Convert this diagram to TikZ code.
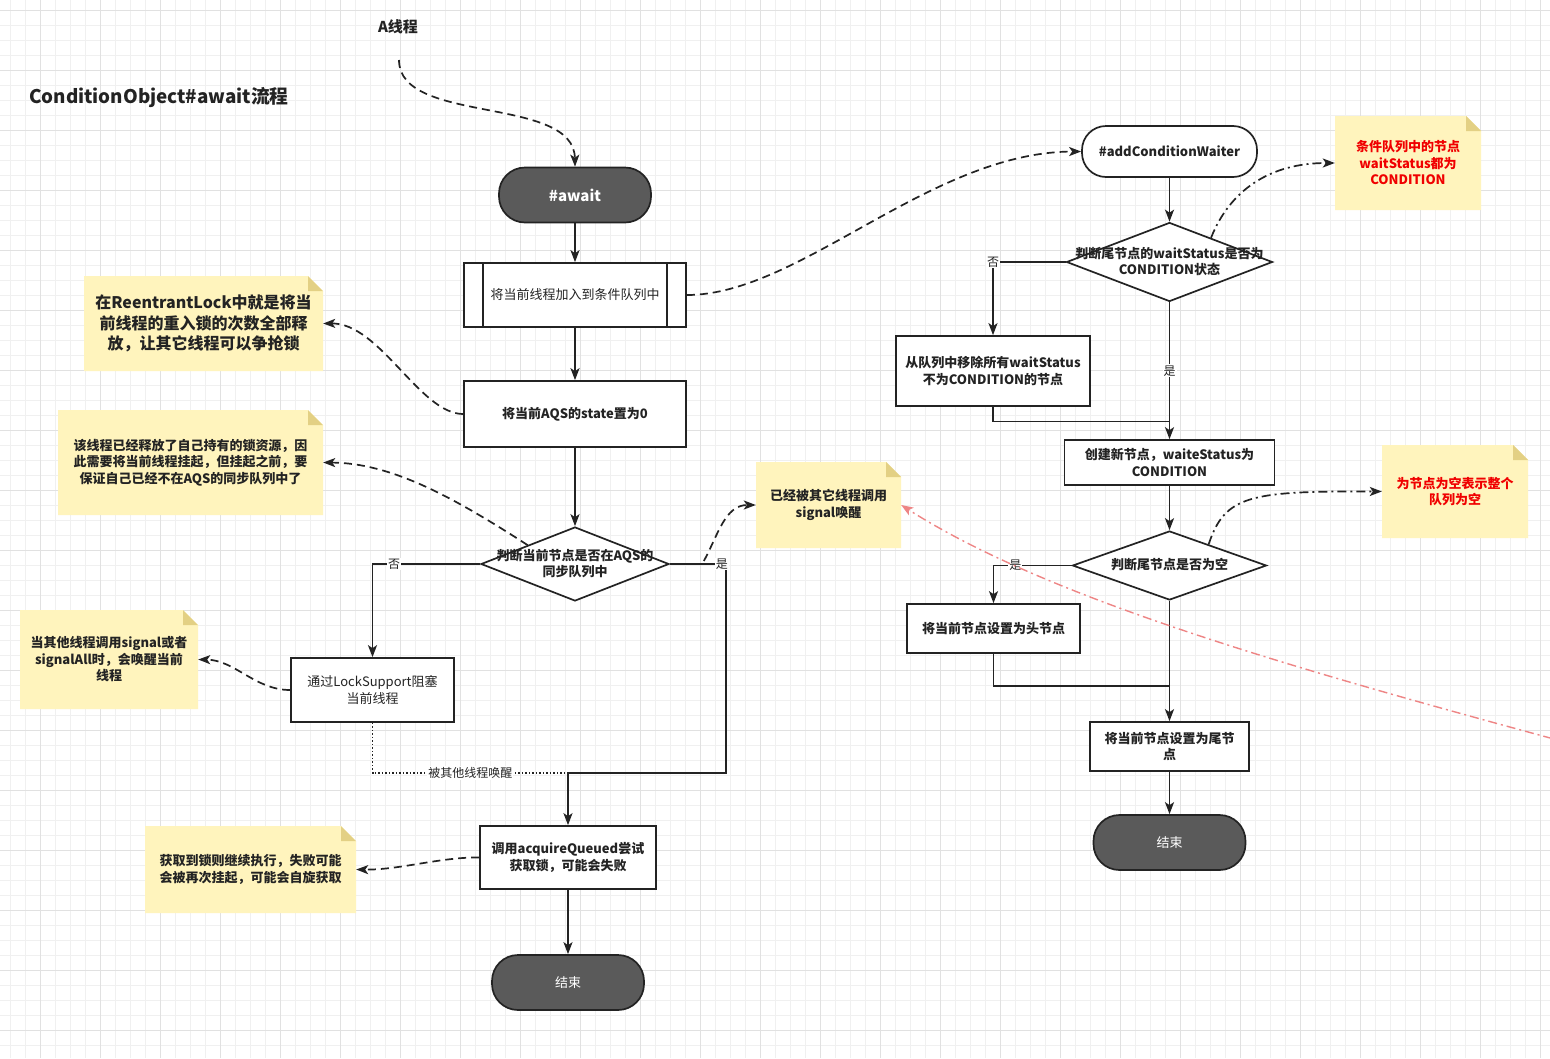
\documentclass[tikz,border=0pt]{standalone}
\usepackage{fontspec}
\setmainfont{Noto Sans CJK SC}
\usetikzlibrary{shapes.geometric,arrows.meta,calc}

\definecolor{ink}{HTML}{232323}
\definecolor{termfill}{HTML}{5A5A5A}
\definecolor{notebg}{HTML}{FFF4BD}
\definecolor{notefold}{HTML}{E3D084}
\definecolor{notered}{HTML}{F00000}
\definecolor{gridmin}{HTML}{F0F0F0}
\definecolor{gridmaj}{HTML}{E1E1E1}
\definecolor{signalred}{HTML}{EE8585}

\newcommand\fs[2]{\fontsize{#1}{#2}\selectfont}
\newcommand\dtext[1]{\smash{\makebox[0pt]{\raisebox{-4pt}{\begin{tabular}{@{}c@{}}#1\end{tabular}}}}}

\tikzset{
  box/.style={rectangle, draw=ink, line width=1.7pt, fill=white, inner sep=0pt,
    align=center, text=ink, font=\fs{13}{16.5}\bfseries},
  term/.style={rectangle, rounded corners=26pt, draw=ink, line width=1.7pt,
    fill=termfill, text=white, inner sep=0pt, minimum width=152pt,
    minimum height=55pt, font=\fs{13}{16}},
  cond/.style={diamond, draw=ink, line width=1.7pt, fill=white, inner sep=0pt,
    text=ink, font=\fs{13}{16.5}\bfseries},
  note/.style={rectangle, inner sep=0pt, align=center, text=ink,
    font=\fs{13}{16.5}\bfseries,
    path picture={
      \fill[notebg] (path picture bounding box.south west)
        -- (path picture bounding box.north west)
        -- ([xshift=-15pt]path picture bounding box.north east)
        -- ([yshift=-15pt]path picture bounding box.north east)
        -- (path picture bounding box.south east) -- cycle;
      \fill[notefold] ([xshift=-15pt]path picture bounding box.north east)
        -- ([xshift=-15pt,yshift=-15pt]path picture bounding box.north east)
        -- ([yshift=-15pt]path picture bounding box.north east) -- cycle;}},
  tip/.style={-{Stealth[length=12pt,width=9pt,inset=3pt]}},
  link/.style={draw=ink, line width=1.7pt},
  flow/.style={link, tip},
  hint/.style={link, tip, dash pattern=on 8pt off 5pt},
  hintdot/.style={link, tip, dash pattern=on 9pt off 4pt on 2pt off 4pt},
  hintred/.style={draw=signalred, line width=1.4pt, tip,
    dash pattern=on 9pt off 4pt on 2pt off 4pt},
  wake/.style={draw=ink, line width=1.4pt, dash pattern=on 1.5pt off 2pt},
  yesno/.style={fill=white, inner sep=1pt, text=ink, font=\fs{12}{14}},
}

\begin{document}
\begin{tikzpicture}[x=1pt,y=-1pt]
\useasboundingbox (0,0) rectangle (1550,1058);
\fill[white] (0,0) rectangle (1550,1058);
% grid
\foreach \gx in {10,25,...,1550} \draw[gridmin,line width=0.8pt] (\gx,0) -- (\gx,1058);
\foreach \gy in {10,25,...,1058} \draw[gridmin,line width=0.8pt] (0,\gy) -- (1550,\gy);
\foreach \gx in {40,100,...,1550} \draw[gridmaj,line width=0.8pt] (\gx,0) -- (\gx,1058);
\foreach \gy in {10,70,...,1058} \draw[gridmaj,line width=0.8pt] (0,\gy) -- (1550,\gy);

\node[anchor=west, inner sep=0pt, text=ink, font=\fs{18.8}{21}\bfseries] (title) at (29,98) {ConditionObject\#await流程};
\node[inner sep=0pt, text=ink, font=\fs{15}{18}\bfseries] (athr) at (398,27) {A线程};
\coordinate (a0) at (399,60);

% left column
\node[term, font=\fs{15}{18}\bfseries] (await) at (575,195) {\#await};
\node[box, minimum width=222pt, minimum height=64pt, font=\fs{13}{16.5}] (enq) at (575,295) {将当前线程加入到条件队列中};
\draw[link] ([xshift=20pt]enq.north west) -- ([xshift=20pt]enq.south west);
\draw[link] ([xshift=-20pt]enq.north east) -- ([xshift=-20pt]enq.south east);
\node[box, minimum width=222pt, minimum height=66pt] (state) at (575,414) {将当前AQS的state置为0};
\node[cond, minimum width=188pt, minimum height=74pt] (q1) at (575,564) {\dtext{判断当前节点是否在AQS的\\同步队列中}};
\node[box, minimum width=163pt, minimum height=64pt, font=\fs{13}{16.5}] (park) at (372.5,690) {通过LockSupport阻塞\\当前线程};
\coordinate (mrg) at (568,773);
\node[box, minimum width=176pt, minimum height=63pt] (acq) at (568,857.5) {调用acquireQueued尝试\\获取锁，可能会失败};
\node[term] (end1) at (568,982.5) {结束};

% notes on the left
\node[note, minimum width=239pt, minimum height=95pt, font=\fs{16}{20.5}\bfseries] (note1) at (203.5,323.5) {在ReentrantLock中就是将当\\前线程的重入锁的次数全部释\\放，让其它线程可以争抢锁};
\node[note, minimum width=265pt, minimum height=105pt] (note2) at (190.5,462.5) {该线程已经释放了自己持有的锁资源，因\\此需要将当前线程挂起，但挂起之前，要\\保证自己已经不在AQS的同步队列中了};
\node[note, minimum width=178pt, minimum height=99pt] (note3) at (109,659.5) {当其他线程调用signal或者\\signalAll时，会唤醒当前\\线程};
\node[note, minimum width=211pt, minimum height=87pt] (note4) at (250.5,869.5) {获取到锁则继续执行，失败可能\\会被再次挂起，可能会自旋获取};
\node[note, minimum width=145pt, minimum height=86pt] (sig) at (828.5,505) {已经被其它线程调用\\signal唤醒};

% right column
\node[term, rounded corners=24pt, fill=white, text=ink, minimum width=175pt, minimum height=51pt, font=\fs{13}{16}\bfseries] (addc) at (1169.5,151.5) {\#addConditionWaiter};
\node[cond, minimum width=206pt, minimum height=79pt] (q2) at (1169.5,262) {\dtext{判断尾节点的waitStatus是否为\\CONDITION状态}};
\node[box, minimum width=194pt, minimum height=70pt] (remove) at (993,371) {从队列中移除所有waitStatus\\不为CONDITION的节点};
\node[box, minimum width=210pt, minimum height=45pt] (create) at (1169.5,462.5) {创建新节点，waiteStatus为\\CONDITION};
\node[cond, minimum width=194pt, minimum height=69pt] (q3) at (1169.5,565.5) {\dtext{判断尾节点是否为空}};
\node[box, minimum width=173pt, minimum height=49pt] (head) at (993.5,628.5) {将当前节点设置为头节点};
\node[box, minimum width=159pt, minimum height=49pt] (tail) at (1169.5,746.5) {将当前节点设置为尾节\\点};
\node[term] (end2) at (1169.5,842.5) {结束};

% notes on the right
\node[note, text=notered, minimum width=146pt, minimum height=94pt] (note5) at (1408,163) {条件队列中的节点\\waitStatus都为\\CONDITION};
\node[note, text=notered, minimum width=146pt, minimum height=93pt] (note6) at (1455,491.5) {为节点为空表示整个\\队列为空};
\coordinate (rs) at (1552,738.5);

% main flow
\draw[hint] (a0) .. controls (399,125) and (574,95) .. (await.north);
\draw[flow] (await) -- (enq);
\draw[flow] (enq) -- (state);
\draw[flow] (state) -- (q1);
\draw[flow] (q1.west) -| node[yesno, pos=0.4] {否} (park.north);
\draw[link] (q1.east) -- ++(56,0) node[yesno, xshift=-4pt] {是} |- (mrg);
\draw[wake] (park.south) |- node[yesno, pos=0.75] {被其他线程唤醒} (mrg);
\draw[flow] (mrg) -- (acq.north);
\draw[flow] (acq) -- (end1);

\draw[flow] (addc) -- (q2);
\draw[flow] (q2.west) -| node[yesno, pos=0.5] {否} (remove.north);
\draw[flow] (q2.south) -- node[yesno] {是} (create.north);
\draw[link] (remove.south) |- ($(q2.south)!0.87!(create.north)$);
\draw[flow] (create) -- (q3);
\draw[flow] (q3.west) -| node[yesno, pos=0.36] {是} (head.north);
\draw[link] (head.south) |- ($(q3.south)!0.71!(tail.north)$);
\draw[flow] (q3.south) -- (tail.north);
\draw[flow] (tail) -- (end2);

% remarks
\draw[hint] (state.west) .. controls (420,414) and (380,323) .. (note1.east);
\draw[hint] ($(q1.west)!0.5!(q1.north)$) .. controls (450,495) and (390,463) .. (note2.east);
\draw[hint] (park.west) .. controls (255,690) and (235,660) .. (note3.east);
\draw[hint] ([xshift=34pt,yshift=3pt]q1.east) .. controls (718,535) and (725,505) .. (sig.west);
\draw[hint] (acq.west) .. controls (440,857) and (400,870) .. (note4.east);
\draw[hint] (enq.east) .. controls (800,295) and (930,152) .. (addc.west);
\draw[hintdot] ($(q2.north)!0.4!(q2.east)$) .. controls (1230,190) and (1270,163) .. (note5.west);
\draw[hintdot] ($(q3.north)!0.4!(q3.east)$) .. controls (1225,495) and (1250,491) .. (note6.west);
\draw[hintred] (rs) .. controls (1300,670) and (1050,600) .. (sig.east);
\end{tikzpicture}
\end{document}
